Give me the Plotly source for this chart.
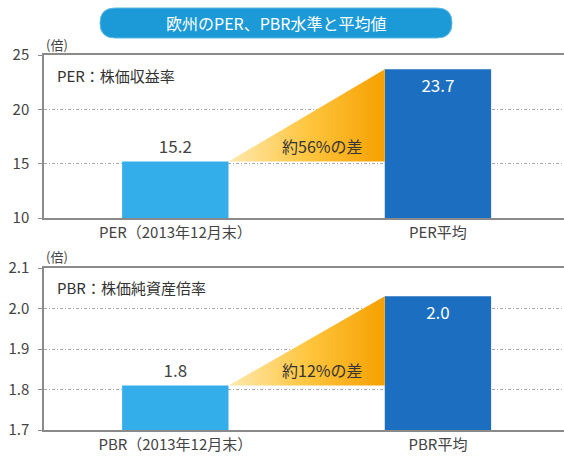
import plotly.graph_objects as go

# ---- data ----
title_text = "欧州のPER、PBR水準と平均値"
per_categories = ["PER（2013年12月末）", "PER平均"]
per_values = [15.2, 23.7]
per_labels = ["15.2", "23.7"]
per_note = "PER：株価収益率"
per_gap = "約56%の差"
per_ticks = [10, 15, 20, 25]

pbr_categories = ["PBR（2013年12月末）", "PBR平均"]
pbr_values = [1.81, 2.03]
pbr_labels = ["1.8", "2.0"]
pbr_note = "PBR：株価純資産倍率"
pbr_gap = "約12%の差"
pbr_ticks = [1.7, 1.8, 1.9, 2.0, 2.1]
unit_label = "(倍)"

# ---- styling ----
W, H = 564, 458
ML, MR, MT, MB = 44, 0, 0, 0
FONT = "Noto Sans CJK JP"
TXT = "#444444"
BAR_W = 0.405
bar_colors = ["#33aeea", "#1b6ec0"]
label_colors = ["#444444", "#ffffff"]
tri_scale = [[0, "#ffe9b0"], [0.5, "#ffc640"], [1, "#f6a000"]]
positions = [0, 1]

def px2x(px):
    return (px - ML) / (W - ML - MR)

def px2y(py):
    return 1 - py / H

fig = go.Figure()

panels = [
    dict(vals=per_values, labs=per_labels, note=per_note, gap=per_gap,
         dom=[px2y(218), px2y(55)], xa="x", ya="y",
         note_py=75, unit_py=45, gap_y=16.6),
    dict(vals=pbr_values, labs=pbr_labels, note=pbr_note, gap=pbr_gap,
         dom=[px2y(430), px2y(268)], xa="x2", ya="y2",
         note_py=287, unit_py=256, gap_y=1.847),
]

for i, p in enumerate(panels):
    x0 = positions[0] + BAR_W / 2
    x1 = positions[1] - BAR_W / 2
    # gap triangle
    fig.add_trace(go.Scatter(
        x=[x0, x1, x1, x0], y=[p["vals"][0], p["vals"][1], p["vals"][0], p["vals"][0]],
        mode="lines", line=dict(width=0), fill="toself",
        fillgradient=dict(type="horizontal", colorscale=tri_scale),
        hoverinfo="skip", showlegend=False, xaxis=p["xa"], yaxis=p["ya"]))
    # bars
    fig.add_trace(go.Bar(
        x=positions, y=p["vals"], width=BAR_W, base=0,
        marker=dict(color=bar_colors, line=dict(width=0)),
        text=p["labs"], textposition=["outside", "inside"],
        insidetextanchor="end", cliponaxis=False,
        textfont=dict(family=FONT, size=17, color=label_colors),
        outsidetextfont=dict(family=FONT, size=17, color=label_colors[0]),
        showlegend=False, xaxis=p["xa"], yaxis=p["ya"]))
    xr = "x" if i == 0 else "x2"
    yr = "y" if i == 0 else "y2"
    fig.add_annotation(x=0.56, y=p["gap_y"], xref=xr, yref=yr,
                       text=p["gap"], showarrow=False,
                       font=dict(family=FONT, size=16, color="#333333"))
    fig.add_annotation(x=px2x(55), y=px2y(p["note_py"]), xref="paper", yref="paper",
                       text=p["note"], showarrow=False, xanchor="left", yanchor="middle",
                       font=dict(family=FONT, size=15, color="#333333"))
    fig.add_annotation(x=px2x(44), y=px2y(p["unit_py"]), xref="paper", yref="paper",
                       text=unit_label, showarrow=False, xanchor="left", yanchor="middle",
                       font=dict(family=FONT, size=13, color="#444444"))

axis_common = dict(showline=True, linecolor="#8a8a8a", linewidth=1.5, automargin=False)
yaxis_common = dict(ticks="outside", ticklen=4, tickcolor="#8a8a8a", ticklabelstandoff=6,
                    showgrid=True, gridcolor="#a8a8a8", griddash="3px,2px,1px,2px",
                    gridwidth=1, zeroline=False,
                    tickfont=dict(family=FONT, size=15, color=TXT))
xaxis_common = dict(domain=[0, 1], range=[-0.5, 1.48], tickvals=positions, mirror=True,
                    showgrid=False, zeroline=False, ticks="",
                    tickfont=dict(family=FONT, size=15, color=TXT))
fig.update_layout(
    width=W, height=H, margin=dict(l=ML, r=MR, t=MT, b=MB, pad=0, autoexpand=False),
    paper_bgcolor="white", plot_bgcolor="white",
    barmode="overlay",
    xaxis=dict(anchor="y", ticktext=per_categories, **xaxis_common, **axis_common),
    yaxis=dict(domain=panels[0]["dom"], anchor="x", range=[10, 25], tickvals=per_ticks,
               **yaxis_common, **axis_common),
    xaxis2=dict(anchor="y2", ticktext=pbr_categories, **xaxis_common, **axis_common),
    yaxis2=dict(domain=panels[1]["dom"], anchor="x2", range=[1.7, 2.1], tickvals=pbr_ticks,
                tickformat=".1f", **yaxis_common, **axis_common),
)

# title pill
L, R, T, B = px2x(100), px2x(452), px2y(8), px2y(38)
rx, ry = 15 / (W - ML - MR), 15 / H
path = (f"M {L+rx},{T} L {R-rx},{T} Q {R},{T} {R},{T-ry} Q {R},{B} {R-rx},{B} "
        f"L {L+rx},{B} Q {L},{B} {L},{B+ry} Q {L},{T} {L+rx},{T} Z")
fig.add_shape(type="path", path=path, xref="paper", yref="paper",
              fillcolor="#1c9ad8", line=dict(color="#5bb8e6", width=1), layer="below")
fig.add_annotation(x=(L + R) / 2, y=(T + B) / 2, xref="paper", yref="paper",
                   text=title_text, showarrow=False, yanchor="middle",
                   font=dict(family=FONT, size=16, color="white"))

fig.write_html("out.html", config={"displayModeBar": False},
               post_script="document.body.style.margin='0';document.body.style.overflow='hidden';")
